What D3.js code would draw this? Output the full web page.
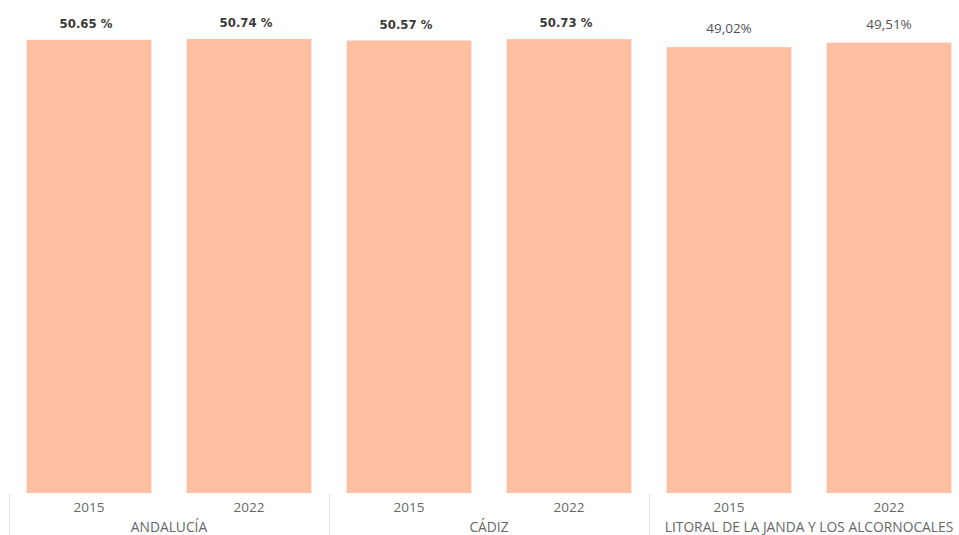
<!DOCTYPE html>
<html>
<head>
<meta charset="utf-8">
<script src="https://cdn.jsdelivr.net/npm/d3@7"></script>
<style>
  body { margin: 0; background: #fff; }
  svg { display: block; }
</style>
</head>
<body>
<div id="chart"></div>
<script>
// Data
const groups = ["ANDALUCÍA", "CÁDIZ", "LITORAL DE LA JANDA Y LOS ALCORNOCALES"];
const years = ["2015", "2022"];
const values = [
  [50.65, 50.74],
  [50.57, 50.73],
  [49.02, 49.51]
];
const valueLabels = [
  ["50.65 %", "50.74 %"],
  ["50.57 %", "50.73 %"],
  ["49,02%", "49,51%"]
];
// the last panel comes from a separate visual with its own scale
const groupMax = [55.1, 55.1, 54.2];

const width = 959;
const height = 535;
const baseY = 493;

const svg = d3.select("#chart")
  .append("svg")
  .attr("width", width)
  .attr("height", height);

// Group scale
const x0 = d3.scaleBand()
  .domain(groups)
  .range([9, 969])
  .padding(0);

// Bar scale inside each group
const x1 = d3.scaleBand()
  .domain(years)
  .range([0, x0.bandwidth()])
  .paddingInner(0.22)
  .paddingOuter(0.11);

groups.forEach((grp, gi) => {
  const y = d3.scaleLinear()
    .domain([0, groupMax[gi]])
    .range([baseY, 0]);

  const g = svg.append("g")
    .attr("transform", `translate(${x0(grp)},0)`);

  const rows = years.map((yr, i) => ({ year: yr, value: values[gi][i], label: valueLabels[gi][i] }));

  g.selectAll("rect")
    .data(rows)
    .enter()
    .append("rect")
    .attr("x", d => x1(d.year))
    .attr("y", d => y(d.value))
    .attr("width", x1.bandwidth())
    .attr("height", d => baseY - y(d.value))
    .attr("fill", "#fdbfa1");

  // data labels - first two panels bold condensed, last one regular
  const isLast = gi === 2;
  g.selectAll("text.val")
    .data(rows)
    .enter()
    .append("text")
    .attr("class", "val")
    .attr("x", d => x1(d.year) + x1.bandwidth() / 2 - (isLast ? 0 : 3))
    .attr("y", d => isLast ? y(d.value) - 14 : y(d.value) - 12)
    .attr("text-anchor", "middle")
    .style("font-family", isLast ? "'Open Sans', sans-serif" : "'DejaVu Sans', sans-serif")
    .style("font-stretch", isLast ? "normal" : "condensed")
    .style("font-weight", isLast ? "normal" : "bold")
    .style("font-size", isLast ? "13.5px" : "13px")
    .style("fill", isLast ? "#555" : "#3a3a3a")
    .text(d => d.label);

  // x-axis year ticks
  const axis = d3.axisBottom(x1).tickSize(0).tickPadding(9);
  const ax = g.append("g")
    .attr("transform", `translate(0,${baseY})`)
    .call(axis);
  ax.select(".domain").remove();
  ax.selectAll("text")
    .style("font-family", "'Open Sans', sans-serif")
    .style("font-size", "13.5px")
    .style("fill", "#666");

  // group label
  g.append("text")
    .attr("x", x0.bandwidth() / 2)
    .attr("y", 532)
    .attr("text-anchor", "middle")
    .style("font-family", "'Open Sans', sans-serif")
    .style("font-size", "13.8px")
    .style("fill", "#666")
    .text(grp);

  // separator on the left of the group
  g.append("line")
    .attr("x1", 0.5)
    .attr("x2", 0.5)
    .attr("y1", baseY + 1)
    .attr("y2", height)
    .style("stroke", "#e3e3e3")
    .style("stroke-width", 1);
});
</script>
</body>
</html>
